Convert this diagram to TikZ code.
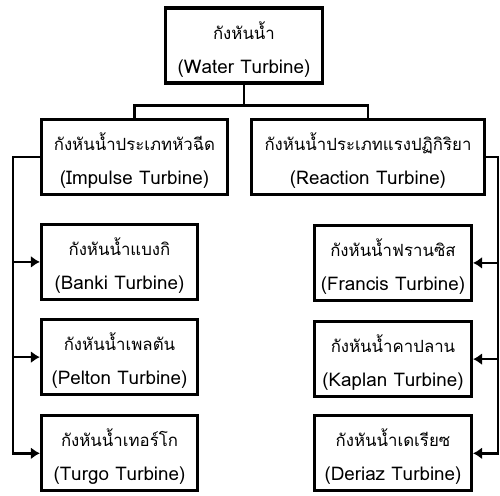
\documentclass[tikz,border=0pt]{standalone}
\usepackage{fontspec}
\newfontfamily\thaifont[Script=Thai]{Loma}
\usetikzlibrary{arrows.meta,positioning}
\newcommand{\twolines}[2]{%
  \smash{\fontsize{8.4}{17}\selectfont #1}\rule{0pt}{13pt}\\
  \smash{#2}\rule[-2.5pt]{0pt}{2.5pt}}

\begin{document}
\begin{tikzpicture}[
  box/.style={rectangle, draw, line width=1.6pt,
              minimum height=37.5pt, inner sep=2pt, align=center,
              font=\thaifont\fontsize{9.4}{17}\selectfont},
  line/.style={line width=1.2pt},
  arr/.style={-{Latex[length=4.5pt,width=6pt]}, line width=1.2pt},
  node distance=9pt and 10.5pt
]
  \useasboundingbox (-122pt,22.75pt) rectangle (128pt,-224.75pt);

  \node[box, minimum width=78.5pt] (water) at (0,0)
    {\twolines{กังหันน้ำ}{(Water Turbine)}};
  \node[box, minimum width=93pt, below=16.5pt of water, xshift=-54.75pt] (impulse)
    {\twolines{กังหันน้ำประเภทหัวฉีด}{(Impulse Turbine)}};
  \node[box, minimum width=116.5pt, below=16.5pt of water, xshift=62pt] (reaction)
    {\twolines{กังหันน้ำประเภทแรงปฏิกิริยา}{(Reaction Turbine)}};

  % impulse turbines
  \node[box, minimum width=78pt, below=13.5pt of impulse.south west,
        anchor=north west] (banki)
    {\twolines{กังหันน้ำแบงกิ}{(Banki Turbine)}};
  \node[box, minimum width=78pt, below=8.5pt of banki] (pelton)
    {\twolines{กังหันน้ำเพลตัน}{(Pelton Turbine)}};
  \node[box, minimum width=78pt, below=9pt of pelton] (turgo)
    {\twolines{กังหันน้ำเทอร์โก}{(Turgo Turbine)}};

  % reaction turbines
  \node[box, minimum width=78.5pt, below=14pt of reaction.south east,
        anchor=north east, xshift=-6.5pt] (francis)
    {\twolines{กังหันน้ำฟรานซิส}{(Francis Turbine)}};
  \node[box, minimum width=78.5pt, below=9pt of francis] (kaplan)
    {\twolines{กังหันน้ำคาปลาน}{(Kaplan Turbine)}};
  \node[box, minimum width=78.5pt, below=8pt of kaplan] (deriaz)
    {\twolines{กังหันน้ำเดเรียซ}{(Deriaz Turbine)}};

  \coordinate[below=10.5pt of water.south] (split);
  \coordinate[left=13.5pt of impulse.west] (lspine);
  \coordinate[right=6pt of reaction.east] (rspine);

  \draw[line] (water.south) -- (split) -| (impulse.north);
  \draw[line] (split) -| (reaction.north);

  \draw[arr] (impulse.west) -- (lspine) |- (turgo.west);
  \draw[arr] (lspine |- banki.west) -- (banki.west);
  \draw[arr] (lspine |- pelton.west) -- (pelton.west);

  \draw[arr] (reaction.east) -- (rspine) |- (deriaz.east);
  \draw[arr] (rspine |- francis.east) -- (francis.east);
  \draw[arr] (rspine |- kaplan.east) -- (kaplan.east);
\end{tikzpicture}
\end{document}
